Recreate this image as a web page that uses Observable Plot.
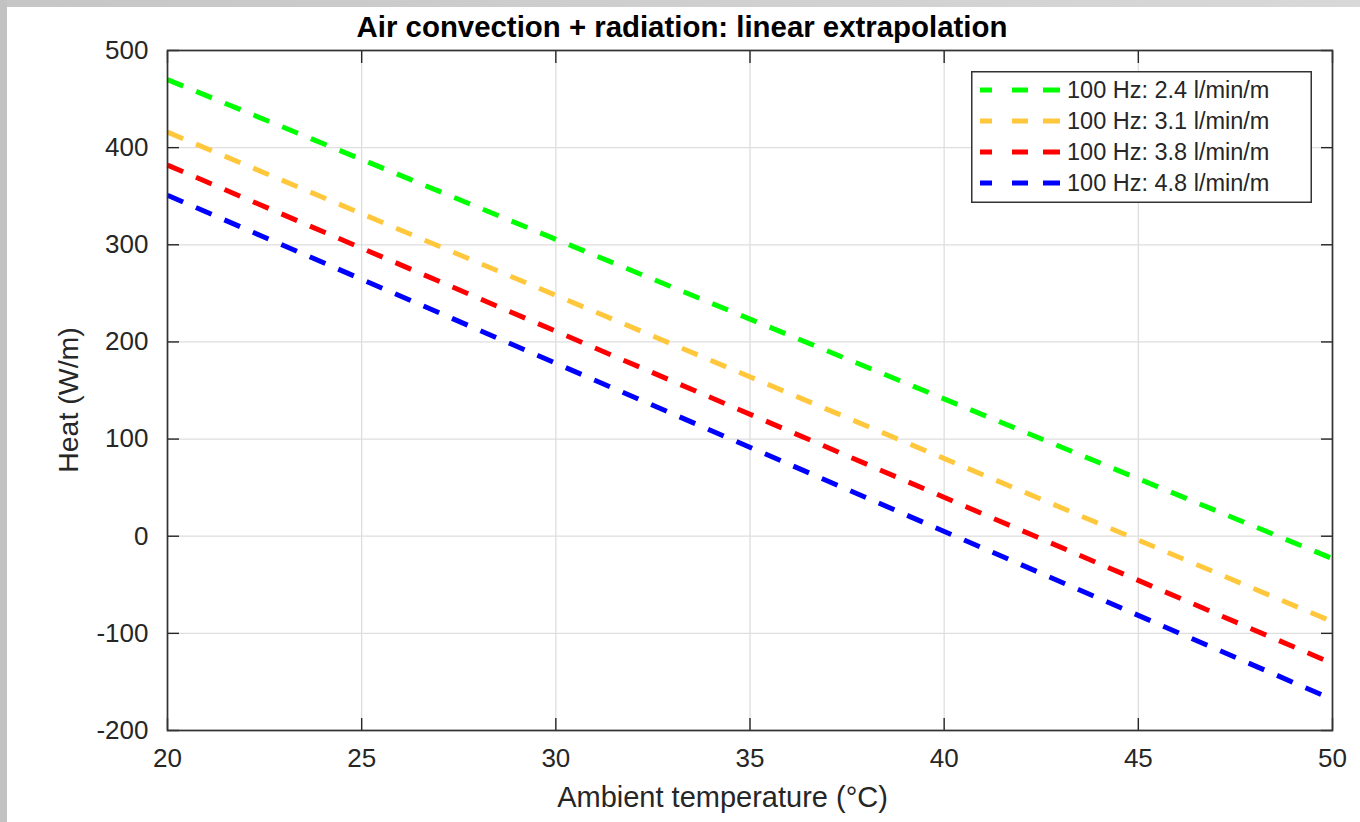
<!DOCTYPE html>
<html>
<head>
<meta charset="utf-8">
<script src="https://cdn.jsdelivr.net/npm/d3@7"></script>
<script src="https://cdn.jsdelivr.net/npm/@observablehq/plot@0.6"></script>
<style>
  html, body { margin: 0; padding: 0; background: #ffffff; }
  #wrap { position: relative; width: 1360px; height: 822px; overflow: hidden;
          font-family: "Liberation Sans", Arial, sans-serif; color: #262626; }
  #chart { position: absolute; left: 0; top: 0; }
  .strip-top { position: absolute; left: 0; top: 0; width: 1360px; height: 7px;
               background: linear-gradient(to right, #c6c6c6, #d8d8d8); z-index: 5; }
  .strip-left { position: absolute; left: 0; top: 0; width: 7px; height: 822px;
                background: #c2c2c2; z-index: 5; }
  #title { position: absolute; left: 682px; top: 12px; transform: translateX(-50%);
           white-space: nowrap; font-size: 29.4px; line-height: 1; font-weight: bold; color: #000; z-index: 3; }
  #xlabel { position: absolute; left: 722.5px; top: 782.5px; transform: translateX(-50%);
            white-space: nowrap; font-size: 29px; line-height: 1; color: #262626; z-index: 3; }
  #ylabel { position: absolute; left: 67.5px; top: 400px; transform: translate(-50%, -50%) rotate(-90deg);
            white-space: nowrap; font-size: 28.5px; line-height: 1; color: #262626; z-index: 3; }
  #legend { position: absolute; left: 971px; top: 71px; z-index: 4; }
</style>
</head>
<body>
<div id="wrap">
  <div class="strip-top"></div>
  <div class="strip-left"></div>
  <div id="chart"></div>
  <div id="title">Air convection + radiation: linear extrapolation</div>
  <div id="xlabel">Ambient temperature (°C)</div>
  <div id="ylabel">Heat (W/m)</div>
  <div id="legend"></div>
</div>
<script>
// ---- data ----
const temperature = [20, 50];
const heat24 = [470, -23];
const heat31 = [416, -88];
const heat38 = [382, -131];
const heat48 = [351, -168];
const seriesLabels = ["100 Hz: 2.4 l/min/m", "100 Hz: 3.1 l/min/m", "100 Hz: 3.8 l/min/m", "100 Hz: 4.8 l/min/m"];
const seriesColors = ["#00ff00", "#ffc83c", "#ff0000", "#0000ff"];
const xTicks = [20, 25, 30, 35, 40, 45, 50];
const yTicks = [-200, -100, 0, 100, 200, 300, 400, 500];

const seriesValues = [heat24, heat31, heat38, heat48];
const tables = seriesValues.map(vals => temperature.map((t, i) => ({t, heat: vals[i]})));

const axisColor = "#262626";
const frameColor = "#333333";
const gridColor = "#dedede";

const lineMarks = tables.map((rows, k) =>
  Plot.line(rows, {x: "t", y: "heat", stroke: seriesColors[k], strokeWidth: 5,
                   strokeDasharray: "17,14", strokeLinecap: "butt"})
);

const chart = Plot.plot({
  width: 1360,
  height: 822,
  marginLeft: 167,
  marginTop: 50,
  marginRight: 28,
  marginBottom: 92,
  x: {domain: [20, 50]},
  y: {domain: [-200, 500]},
  style: {fontFamily: '"Liberation Sans", Arial, sans-serif', fontSize: "26px", color: axisColor, background: "transparent"},
  marks: [
    Plot.gridX(xTicks, {stroke: gridColor, strokeOpacity: 1, strokeWidth: 1.3}),
    Plot.gridY(yTicks, {stroke: gridColor, strokeOpacity: 1, strokeWidth: 1.3}),
    ...lineMarks,
    // inward ticks on all four sides
    Plot.axisY(yTicks, {anchor: "left", tickSize: 12, dx: 12, fill: "none", stroke: axisColor, strokeWidth: 1.4, label: null}),
    Plot.axisY(yTicks, {anchor: "right", tickSize: 12, dx: -12, fill: "none", stroke: axisColor, strokeWidth: 1.4, label: null}),
    Plot.axisX(xTicks, {anchor: "bottom", tickSize: 12, dy: -12, fill: "none", stroke: axisColor, strokeWidth: 1.4, label: null}),
    Plot.axisX(xTicks, {anchor: "top", tickSize: 12, dy: 12, fill: "none", stroke: axisColor, strokeWidth: 1.4, label: null}),
    // tick labels
    Plot.axisY(yTicks, {anchor: "left", tickSize: 0, tickPadding: 19, fill: axisColor, label: null, tickFormat: d => String(d)}),
    Plot.axisX(xTicks, {anchor: "bottom", tickSize: 0, tickPadding: 18, fill: axisColor, label: null, tickFormat: d => String(d)}),
    Plot.frame({stroke: frameColor, strokeWidth: 1.7})
  ]
});
document.getElementById("chart").appendChild(chart);

// ---- legend ----
const W = 341, H = 132;
const ns = "http://www.w3.org/2000/svg";
const leg = document.createElementNS(ns, "svg");
leg.setAttribute("width", W);
leg.setAttribute("height", H);
leg.setAttribute("style", "display:block");
const box = document.createElementNS(ns, "rect");
box.setAttribute("x", 0.75); box.setAttribute("y", 0.75);
box.setAttribute("width", W - 1.5); box.setAttribute("height", H - 1.5);
box.setAttribute("fill", "#ffffff"); box.setAttribute("stroke", frameColor); box.setAttribute("stroke-width", 1.5);
leg.appendChild(box);
seriesLabels.forEach((lab, k) => {
  const cy = 19 + k * 31;
  const ln = document.createElementNS(ns, "line");
  ln.setAttribute("x1", 9); ln.setAttribute("x2", 89);
  ln.setAttribute("y1", cy); ln.setAttribute("y2", cy);
  ln.setAttribute("stroke", seriesColors[k]); ln.setAttribute("stroke-width", 5);
  ln.setAttribute("stroke-dasharray", "12,20,16,15,17");
  leg.appendChild(ln);
  const tx = document.createElementNS(ns, "text");
  tx.setAttribute("x", 96); tx.setAttribute("y", cy + 8.4);
  tx.setAttribute("font-family", '"Liberation Sans", Arial, sans-serif');
  tx.setAttribute("font-size", "23.5px");
  tx.setAttribute("fill", axisColor);
  tx.textContent = lab;
  leg.appendChild(tx);
});
document.getElementById("legend").appendChild(leg);
</script>
</body>
</html>
